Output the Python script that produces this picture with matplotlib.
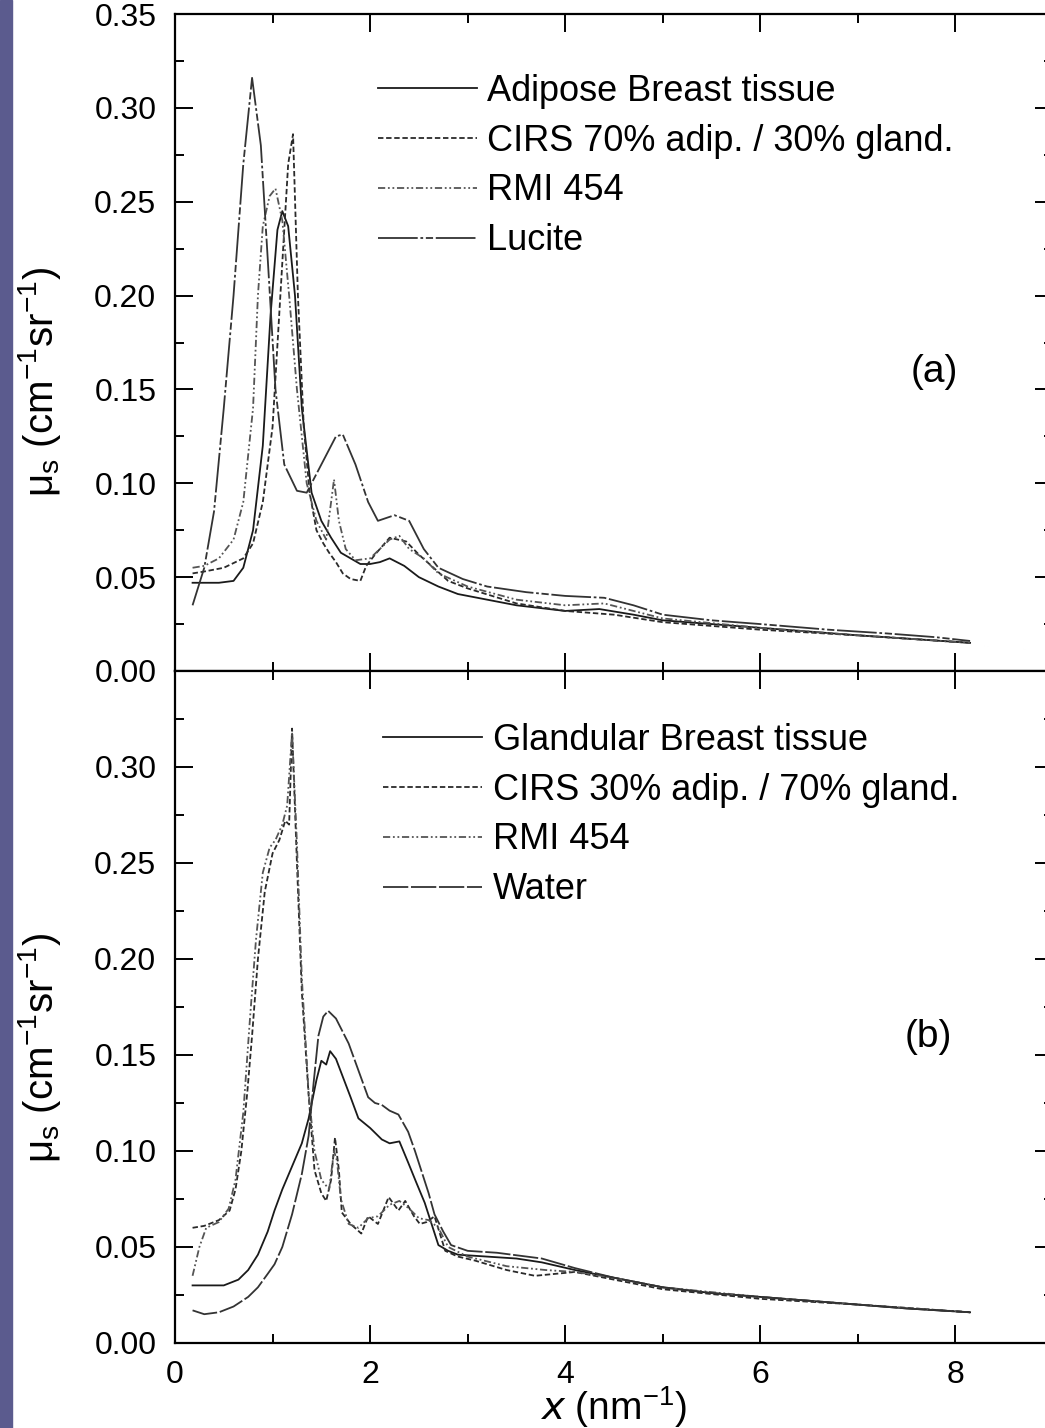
"""Scattering coefficient curves: breast tissues vs phantom materials."""

import matplotlib

matplotlib.use("Agg")
import matplotlib.pyplot as plt
from matplotlib.patches import Rectangle
from matplotlib.ticker import MultipleLocator, FuncFormatter

plt.rcParams["font.family"] = ["Liberation Sans", "DejaVu Sans"]
plt.rcParams["mathtext.default"] = "regular"

# ---- panel (a): adipose tissue and equivalents ----
adipose_x = [0.18, 0.3, 0.45, 0.6, 0.7, 0.8, 0.9, 0.98, 1.05, 1.1, 1.16, 1.23, 1.3, 1.4, 1.5, 1.6, 1.7,
             1.8, 1.9, 2.0, 2.1, 2.2, 2.35, 2.5, 2.7, 2.9, 3.2, 3.5, 4.0, 4.35, 4.7, 5.0, 5.5, 6.0, 7.0, 8.15]
adipose_y = [0.047, 0.047, 0.047, 0.048, 0.055, 0.075, 0.12, 0.19, 0.235, 0.245, 0.237, 0.2, 0.14, 0.095,
             0.08, 0.071, 0.063, 0.06, 0.057, 0.057, 0.058, 0.06, 0.056, 0.05, 0.045, 0.041, 0.038, 0.035,
             0.032, 0.033, 0.03, 0.027, 0.025, 0.023, 0.019, 0.015]

cirs70_x = [0.18, 0.3, 0.5, 0.7, 0.8, 0.9, 1.0, 1.08, 1.16, 1.21, 1.26, 1.32, 1.38, 1.45, 1.52, 1.58, 1.65,
            1.72, 1.8, 1.9, 1.96, 2.05, 2.2, 2.37, 2.5, 2.65, 2.8, 3.0, 3.5, 4.0, 4.5, 5.0, 6.0, 7.0, 8.15]
cirs70_y = [0.052, 0.053, 0.055, 0.06, 0.068, 0.09, 0.13, 0.2, 0.27, 0.286, 0.2, 0.13, 0.095, 0.075, 0.068,
            0.063, 0.058, 0.052, 0.049, 0.048, 0.056, 0.062, 0.071, 0.069, 0.062, 0.055, 0.048, 0.044,
            0.036, 0.032, 0.03, 0.026, 0.022, 0.019, 0.015]

rmi_a_x = [0.18, 0.3, 0.45, 0.6, 0.7, 0.8, 0.85, 0.9, 0.97, 1.03, 1.1, 1.17, 1.25, 1.35, 1.45, 1.55, 1.6,
           1.63, 1.68, 1.75, 1.85, 2.0, 2.1, 2.2, 2.3, 2.4, 2.55, 2.7, 3.0, 3.5, 4.0, 4.4, 5.0, 6.0, 7.0, 8.15]
rmi_a_y = [0.055, 0.056, 0.06, 0.07, 0.09, 0.14, 0.2, 0.237, 0.253, 0.257, 0.24, 0.2, 0.15, 0.1, 0.08, 0.07,
           0.09, 0.102, 0.08, 0.065, 0.059, 0.06, 0.065, 0.07, 0.072, 0.065, 0.06, 0.052, 0.045, 0.038,
           0.035, 0.036, 0.028, 0.023, 0.019, 0.015]

lucite_x = [0.18, 0.3, 0.4, 0.5, 0.6, 0.7, 0.79, 0.88, 0.95, 1.03, 1.12, 1.25, 1.35, 1.5, 1.65, 1.72, 1.85,
            1.98, 2.08, 2.25, 2.4, 2.55, 2.7, 2.95, 3.2, 3.6, 4.0, 4.4, 4.7, 5.0, 5.5, 6.0, 6.7, 7.3, 7.8, 8.15]
lucite_y = [0.035, 0.055, 0.085, 0.14, 0.2, 0.27, 0.316, 0.28, 0.22, 0.15, 0.11, 0.096, 0.095, 0.11, 0.125,
            0.126, 0.11, 0.09, 0.08, 0.083, 0.08, 0.065, 0.055, 0.049, 0.045, 0.042, 0.040, 0.039, 0.035,
            0.030, 0.027, 0.025, 0.022, 0.020, 0.018, 0.016]

# ---- panel (b): glandular tissue and equivalents ----
gland_x = [0.18, 0.3, 0.5, 0.65, 0.75, 0.85, 0.95, 1.02, 1.1, 1.2, 1.3, 1.37, 1.45, 1.5, 1.55, 1.59, 1.65,
           1.71, 1.8, 1.88, 2.0, 2.12, 2.2, 2.3, 2.39, 2.47, 2.56, 2.63, 2.7, 2.8, 2.9, 3.2, 3.5, 3.76, 4.1,
           4.5, 5.0, 5.5, 6.0, 6.5, 7.0, 7.5, 8.15]
gland_y = [0.030, 0.030, 0.030, 0.033, 0.038, 0.046, 0.058, 0.069, 0.08, 0.092, 0.104, 0.117, 0.137, 0.147,
           0.145, 0.152, 0.148, 0.140, 0.128, 0.117, 0.112, 0.106, 0.104, 0.105, 0.094, 0.084, 0.073, 0.062,
           0.051, 0.048, 0.046, 0.045, 0.044, 0.042, 0.038, 0.034, 0.029, 0.026, 0.024, 0.022, 0.020,
           0.018, 0.016]

cirs30_x = [0.18, 0.3, 0.45, 0.56, 0.62, 0.68, 0.74, 0.79, 0.85, 0.92, 1.0, 1.07, 1.13, 1.17, 1.2, 1.25,
            1.3, 1.37, 1.43, 1.5, 1.55, 1.6, 1.64, 1.68, 1.71, 1.8, 1.91, 1.98, 2.08, 2.19, 2.29, 2.36, 2.45,
            2.51, 2.58, 2.66, 2.77, 2.9, 3.07, 3.4, 3.69, 4.1, 4.5, 5.0, 6.0, 7.0, 8.15]
cirs30_y = [0.06, 0.061, 0.064, 0.069, 0.08, 0.1, 0.13, 0.16, 0.2, 0.235, 0.255, 0.262, 0.272, 0.27, 0.32,
            0.25, 0.183, 0.129, 0.09, 0.078, 0.074, 0.085, 0.107, 0.09, 0.068, 0.062, 0.057, 0.066, 0.062,
            0.076, 0.069, 0.074, 0.066, 0.062, 0.063, 0.066, 0.048, 0.045, 0.043, 0.038, 0.035, 0.037,
            0.033, 0.028, 0.023, 0.020, 0.016]

rmi_b_x = [0.18, 0.25, 0.32, 0.45, 0.55, 0.62, 0.7, 0.77, 0.83, 0.9, 0.97, 1.03, 1.1, 1.15, 1.2, 1.25, 1.3,
           1.37, 1.43, 1.5, 1.58, 1.63, 1.66, 1.7, 1.78, 1.88, 1.98, 2.08, 2.2, 2.3, 2.4, 2.5, 2.6, 2.7,
           2.8, 3.0, 3.4, 3.8, 4.1, 4.5, 5.0, 6.0, 7.0, 8.15]
rmi_b_y = [0.035, 0.05, 0.06, 0.063, 0.07, 0.085, 0.12, 0.17, 0.21, 0.245, 0.258, 0.262, 0.27, 0.28, 0.318,
           0.26, 0.19, 0.13, 0.1, 0.085, 0.08, 0.1, 0.095, 0.075, 0.062, 0.06, 0.065, 0.066, 0.072, 0.074,
           0.07, 0.065, 0.064, 0.06, 0.05, 0.045, 0.040, 0.038, 0.037, 0.034, 0.029, 0.024, 0.020, 0.016]

water_x = [0.18, 0.3, 0.45, 0.6, 0.75, 0.85, 0.95, 1.02, 1.1, 1.2, 1.3, 1.37, 1.42, 1.47, 1.52, 1.57, 1.65,
           1.72, 1.78, 1.88, 1.98, 2.05, 2.12, 2.2, 2.29, 2.39, 2.46, 2.53, 2.6, 2.66, 2.75, 2.83, 3.0, 3.3,
           3.76, 4.1, 4.5, 5.0, 5.5, 6.0, 6.5, 7.0, 7.5, 8.15]
water_y = [0.017, 0.015, 0.016, 0.019, 0.024, 0.029, 0.036, 0.041, 0.05, 0.067, 0.088, 0.108, 0.135, 0.160,
           0.170, 0.173, 0.169, 0.162, 0.156, 0.142, 0.128, 0.125, 0.124, 0.121, 0.119, 0.110, 0.100, 0.089,
           0.078, 0.067, 0.058, 0.051, 0.048, 0.047, 0.044, 0.039, 0.034, 0.029, 0.026, 0.024, 0.022,
           0.020, 0.018, 0.016]

SOLID = "-"
DASHED = (0, (3, 1.5))
DASHDOTDOT = (0, (4, 1.5, 1, 1.5, 1, 1.5))
LUCITE = (0, (22, 1.5, 1.5, 1.5, 4, 1.5))
WATER = (0, (14, 1.5))

YLABEL = r"μ$_{s}$ (cm$^{-1}$sr$^{-1}$)"


def _style_axis(ax, show_xlabels, ymax_label):
    ax.set_xlim(0, 9)
    ax.set_ylim(0, 0.35)
    ax.xaxis.set_major_locator(MultipleLocator(2))
    ax.xaxis.set_minor_locator(MultipleLocator(1))
    ax.yaxis.set_major_locator(MultipleLocator(0.05))
    ax.yaxis.set_minor_locator(MultipleLocator(0.025))

    def fmt(v, _pos):
        if not ymax_label and v > 0.34:
            return ""
        return f"{v:.2f}"

    ax.yaxis.set_major_formatter(FuncFormatter(fmt))
    ax.tick_params(which="both", direction="in", top=True, right=True, width=1.4, labelsize=23)
    ax.tick_params(which="major", length=13)
    ax.tick_params(which="minor", length=6.5)
    ax.tick_params(axis="y", pad=13.5)
    ax.tick_params(axis="x", pad=12, labelbottom=show_xlabels)
    for spine in ax.spines.values():
        spine.set_linewidth(1.6)
    ax.set_ylabel(YLABEL, fontsize=29)
    ax.yaxis.set_label_coords(-0.128, 0.44)


def main():
    fig = plt.figure(figsize=(10.45, 14.28), dpi=100)
    fig.patches.append(Rectangle((0, 0), 12 / 1045, 1, transform=fig.transFigure,
                                 color="#5b5b8e", zorder=0))
    left = 175 / 1045
    width = 878 / 1045
    ax_a = fig.add_axes([left, 757 / 1428, width, 657 / 1428])
    ax_b = fig.add_axes([left, 85 / 1428, width, 672 / 1428])

    lw = 1.3
    ax_a.plot(adipose_x, adipose_y, color="#1a1a1a", lw=lw, ls=SOLID, label="Adipose Breast tissue")
    ax_a.plot(cirs70_x, cirs70_y, color="#2a2a2a", lw=lw, ls=DASHED, label="CIRS 70% adip. / 30% gland.")
    ax_a.plot(rmi_a_x, rmi_a_y, color="#555555", lw=lw, ls=DASHDOTDOT, label="RMI 454")
    ax_a.plot(lucite_x, lucite_y, color="#333333", lw=lw, ls=LUCITE, label="Lucite")

    ax_b.plot(gland_x, gland_y, color="#1a1a1a", lw=lw, ls=SOLID, label="Glandular Breast tissue")
    ax_b.plot(cirs30_x, cirs30_y, color="#2a2a2a", lw=lw, ls=DASHED, label="CIRS 30% adip. / 70% gland.")
    ax_b.plot(rmi_b_x, rmi_b_y, color="#555555", lw=lw, ls=DASHDOTDOT, label="RMI 454")
    ax_b.plot(water_x, water_y, color="#333333", lw=lw, ls=WATER, label="Water")

    _style_axis(ax_a, False, True)
    _style_axis(ax_b, True, False)

    for ax, anchor in ((ax_a, (0.231, 0.909)), (ax_b, (0.237, 0.923))):
        ax.legend(loc="upper left", bbox_to_anchor=anchor, frameon=False, fontsize=26,
                  handlelength=2.75, handletextpad=0.28, labelspacing=0.41,
                  borderpad=0, borderaxespad=0)

    ax_a.text(0.865, 0.455, "(a)", transform=ax_a.transAxes, fontsize=28, ha="center", va="center")
    ax_b.text(0.858, 0.455, "(b)", transform=ax_b.transAxes, fontsize=28, ha="center", va="center")

    fig.text(613 / 1045, 1 - 1407 / 1428, r"$\it{x}$ (nm$^{-1}$)", fontsize=28, ha="center", va="center")

    fig.savefig("out.png", dpi=100)
    plt.close(fig)


if __name__ == "__main__":
    main()
